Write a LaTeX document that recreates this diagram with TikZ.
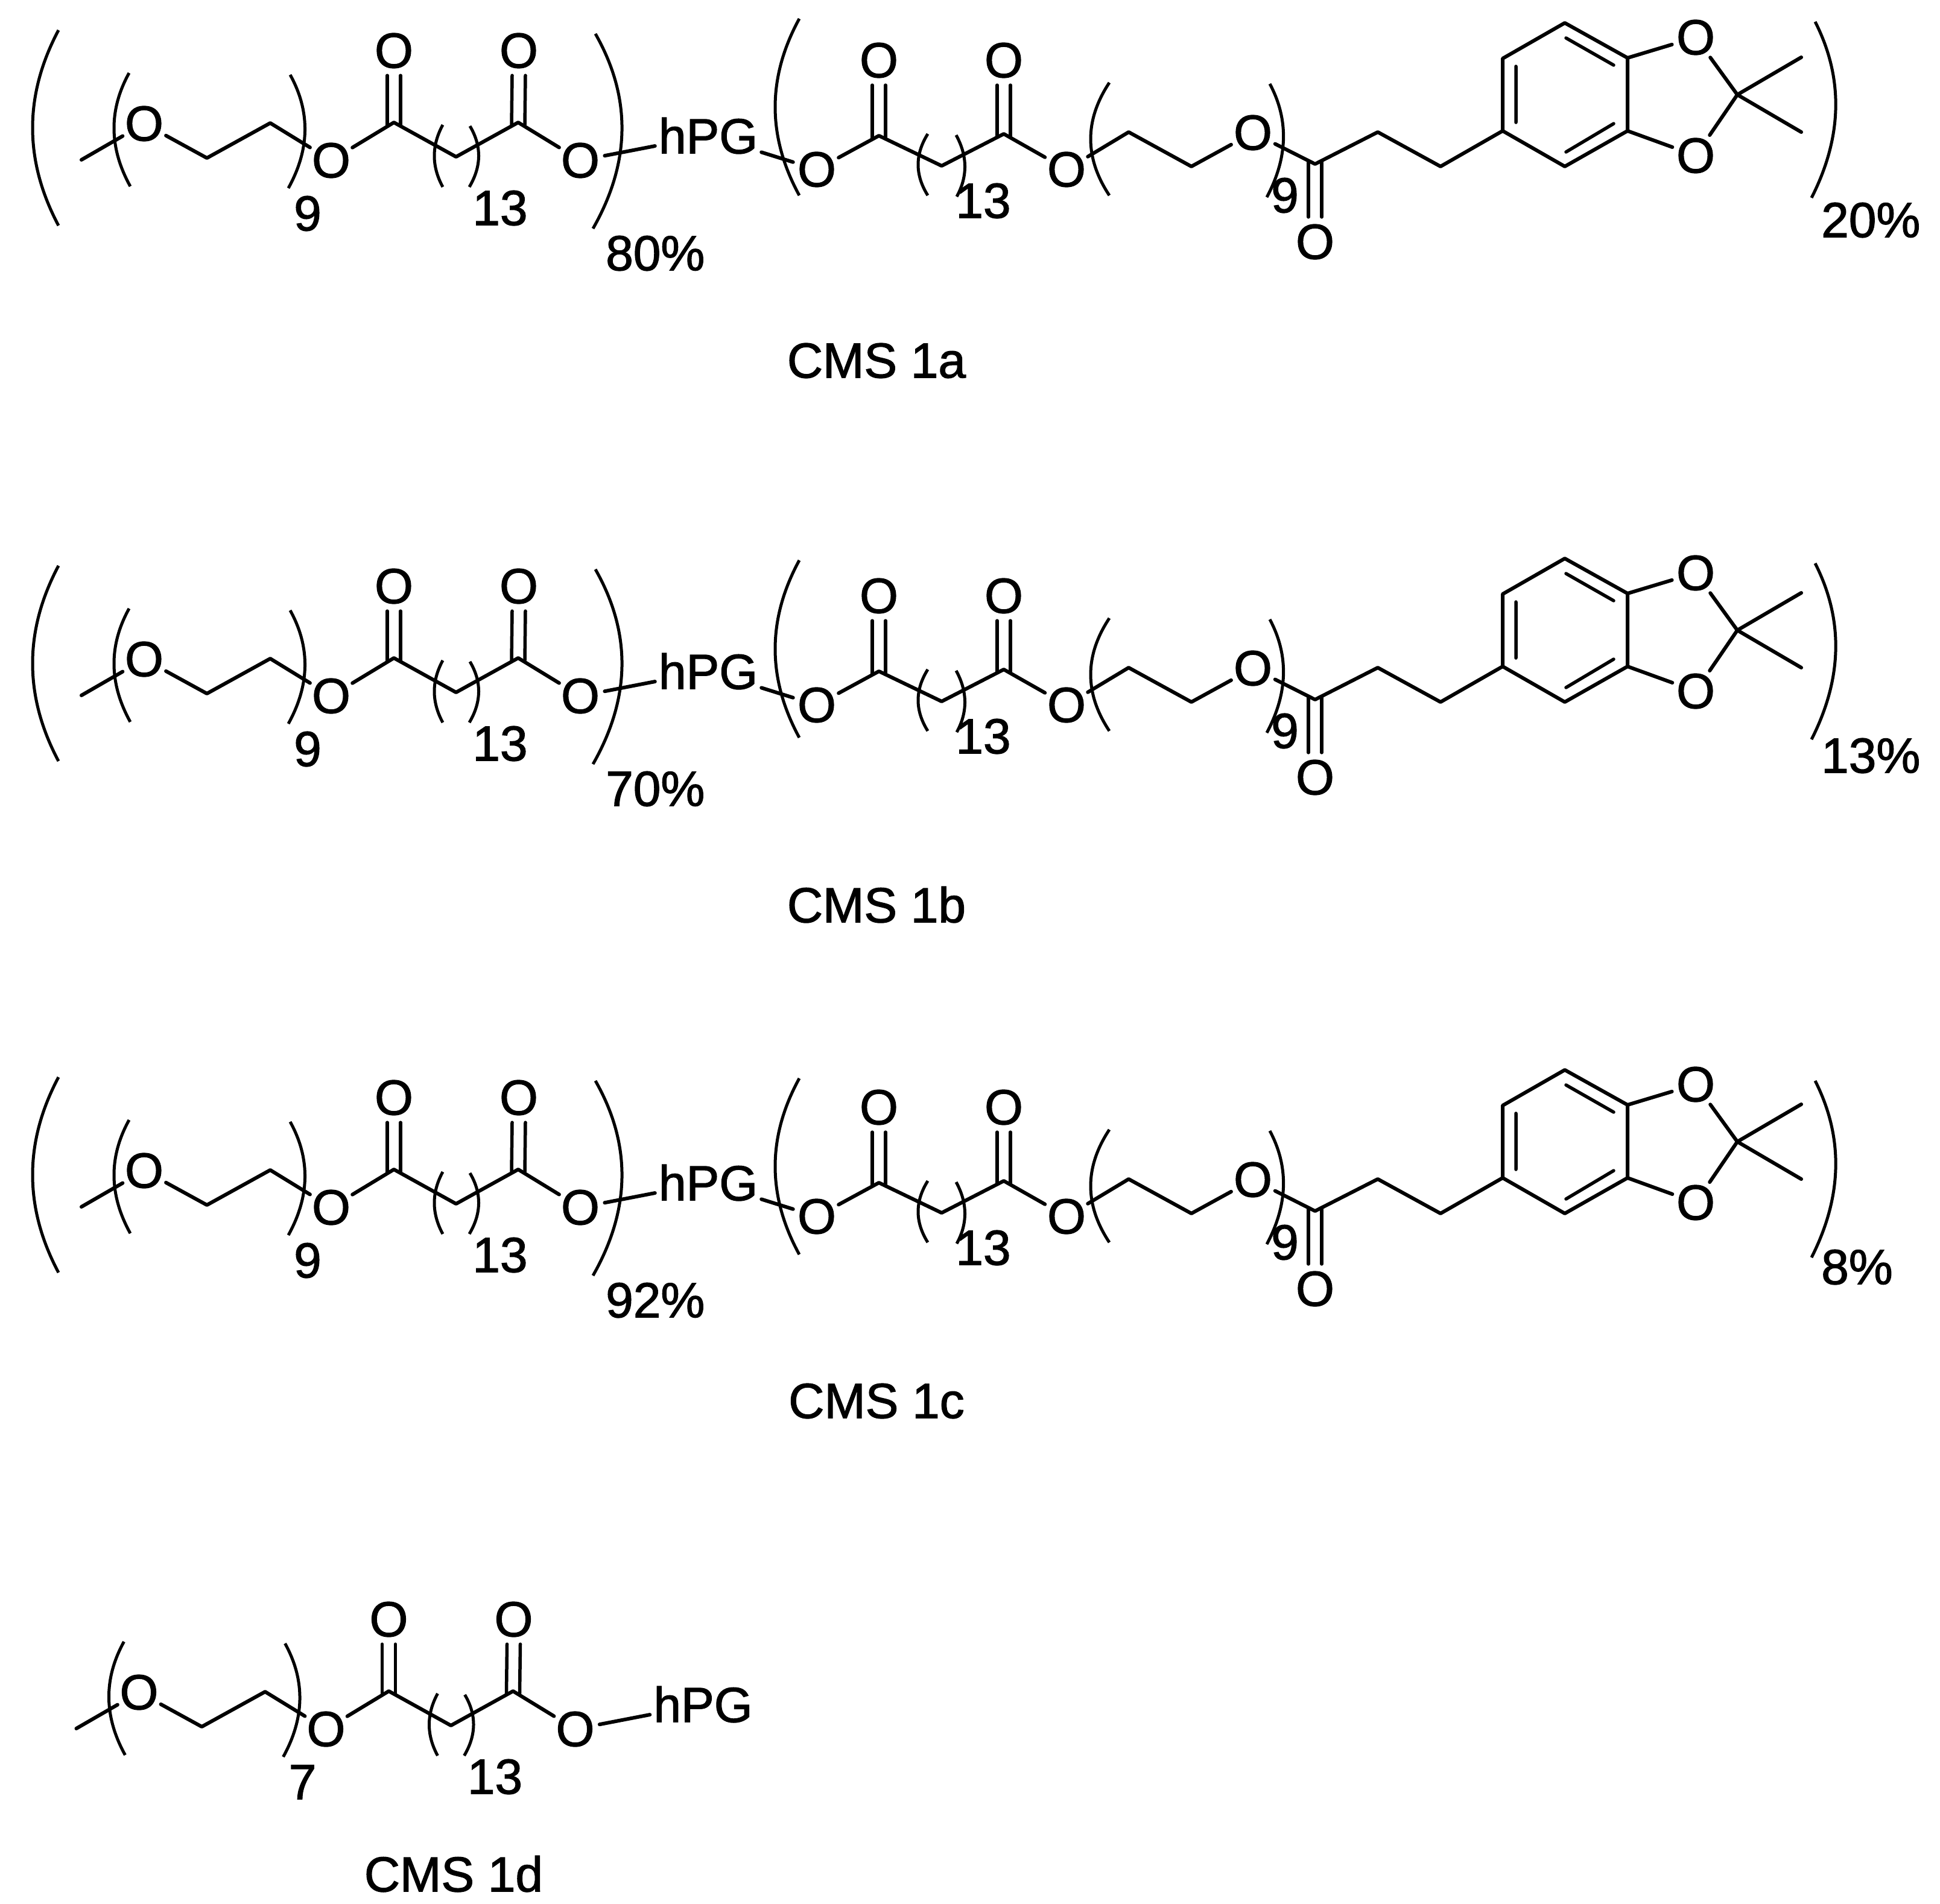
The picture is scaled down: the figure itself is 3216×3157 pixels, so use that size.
\documentclass[tikz,border=0pt]{standalone}
\usepackage{fontspec}
\setmainfont{Liberation Sans}
\newfontfamily\chemfont[FakeBold=1.5]{Liberation Sans}
\tikzset{
  atom/.style={circle,inner sep=-1.5pt},
  lab/.style={inner sep=0pt},
  hpg/.style={inner xsep=6pt,inner ysep=0pt},
  bond/.style={line width=6pt,line cap=round,line join=round},
  inbond/.style={line width=5.5pt,line cap=round},
  paren/.style={line width=5pt}
}
% bracket: x1,y1,x2,y2,bulge
\newcommand{\brk}[5]{%
  \pgfmathsetmacro{\bdy}{(#4-(#2))/3}%
  \pgfmathsetmacro{\bsx}{#5*4/3}%
  \draw[paren] (#1,#2) .. controls +(\bsx,\bdy) and +(\bsx,-\bdy) .. (#3,#4);
}
% double bond: carbon, oxygen, oxygen anchor, shift at the carbon
\newcommand{\dbl}[4]{%
  \draw[inbond] ([xshift=-11pt,yshift=#4pt]#1)--([xshift=-11pt]#2.#3);
  \draw[inbond] ([xshift=11pt,yshift=#4pt]#1)--([xshift=11pt]#2.#3);
}
% methoxy chain, diacid, hPG: prefix, repeat count
\newcommand{\leftarm}[2]{%
  \coordinate (#1me) at (135,265);
  \node[atom] (#1O1) at (239,205) {O};
  \coordinate (#1a1) at (343,262);
  \coordinate (#1a2) at (448,204);
  \node[atom] (#1O2) at (549,266) {O};
  \coordinate (#1c1) at (653,203);
  \node[atom] (#1Oc1) at (653,84) {O};
  \coordinate (#1c2) at (756,260);
  \coordinate (#1c3) at (859,203);
  \node[atom] (#1Oc3) at (860,84) {O};
  \node[atom] (#1O3) at (962,266) {O};
  \node[hpg] (#1hpg) at (1174,225) {hPG};
  \dbl{#1c1}{#1Oc1}{south}{-4}
  \dbl{#1c3}{#1Oc3}{south}{-4}
  \draw[bond] (#1me)--(#1O1)--(#1a1)--(#1a2)--(#1O2)--(#1c1)--(#1c2)--(#1c3)--(#1O3)--(#1hpg);
  \brk{214}{121}{216}{309}{-26}
  \brk{481}{124}{478}{312}{26}
  \brk{734}{207}{734}{310}{-14}
  \brk{779}{209}{778}{310}{15}
  \node[lab] (#1n1) at (510,354) {#2};
  \node[lab] (#1n2) at (829,345) {13};
}
% diacid, chain and acetonide arm: prefix
\newcommand{\rightarm}[1]{%
  \node[atom] (#1O4) at (1354,281) {O};
  \coordinate (#1c4) at (1457,225);
  \node[atom] (#1Oc4) at (1457,100) {O};
  \coordinate (#1c5) at (1561,275);
  \coordinate (#1c6) at (1664,222);
  \node[atom] (#1Oc6) at (1664,100) {O};
  \node[atom] (#1O5) at (1768,281) {O};
  \coordinate (#1b1) at (1871,219);
  \coordinate (#1b2) at (1975,276);
  \node[atom] (#1O6) at (2077,220) {O};
  \coordinate (#1c7) at (2180,272);
  \node[atom] (#1Oc7) at (2180,401) {O};
  \coordinate (#1b3) at (2284,219);
  \coordinate (#1b4) at (2388,276);
  \coordinate (#1r1) at (2491,217);
  \coordinate (#1r2) at (2491,97);
  \coordinate (#1r3) at (2594,38);
  \coordinate (#1r4) at (2698,96);
  \coordinate (#1r5) at (2698,217);
  \coordinate (#1r6) at (2594,276);
  \node[atom] (#1Ou) at (2811,62) {O};
  \node[atom] (#1Ol) at (2811,258) {O};
  \coordinate (#1ck) at (2880,157);
  \coordinate (#1m1) at (2986,95);
  \coordinate (#1m2) at (2986,219);
  \dbl{#1c4}{#1Oc4}{south}{-4}
  \dbl{#1c6}{#1Oc6}{south}{-4}
  \dbl{#1c7}{#1Oc7}{north}{4}
  \draw[bond] (#1hpg)--(#1O4)--(#1c4)--(#1c5)--(#1c6)--(#1O5)--(#1b1)--(#1b2)--(#1O6)--(#1c7)--(#1b3)--(#1b4)--(#1r1);
  \draw[bond] (#1r1)--(#1r2)--(#1r3)--(#1r4)--(#1r5)--(#1r6)--cycle;
  \draw[bond] (#1r4)--(#1Ou)--(#1ck)--(#1Ol)--(#1r5);
  \draw[bond] (#1m1)--(#1ck)--(#1m2);
  \draw[inbond] (2513,110)--(2513,203) (2596,63)--(2675,108) (2675,205)--(2596,252);
  \brk{1538}{222}{1538}{324}{-16}
  \brk{1585}{224}{1586}{326}{14}
  \brk{1839}{137}{1839}{324}{-31}
  \brk{2105}{139}{2100}{327}{25}
  \node[lab] (#1n3) at (1630,333) {13};
  \node[lab] (#1n4) at (2130,324) {9};
}
\begin{document}
\begin{tikzpicture}[x=1pt,y=-1pt,font=\chemfont\fontsize{82}{90}\selectfont]
  \useasboundingbox (0,0) rectangle (3216,3157);
  % CMS 1a
  \begin{scope}
    \leftarm{a}{9}
    \rightarm{a}
    \brk{97}{50}{97}{374}{-43}
    \brk{987}{56}{983}{379}{46}
    \brk{1325}{31}{1325}{324}{-40}
    \brk{3009}{36}{3003}{328}{37}
    \node[lab,anchor=west] (apl) at (1004,420) {80\%};
    \node[lab,anchor=west] (apr) at (3019,365) {20\%};
  \end{scope}
  \node[lab] (alabel) at (1453,598) {CMS 1a};
  % CMS 1b
  \begin{scope}[shift={(0,888)}]
    \leftarm{b}{9}
    \rightarm{b}
    \brk{97}{50}{97}{374}{-43}
    \brk{987}{56}{983}{379}{46}
    \brk{1325}{41}{1325}{335}{-40}
    \brk{3009}{46}{3003}{338}{37}
    \node[lab,anchor=west] (bpl) at (1004,420) {70\%};
    \node[lab,anchor=west] (bpr) at (3019,365) {13\%};
  \end{scope}
  \node[lab] (blabel) at (1453,1500) {CMS 1b};
  % CMS 1c
  \begin{scope}[shift={(0,1736)}]
    \leftarm{c}{9}
    \rightarm{c}
    \brk{97}{50}{97}{374}{-43}
    \brk{987}{56}{983}{379}{46}
    \brk{1325}{52}{1325}{344}{-40}
    \brk{3009}{56}{3003}{349}{37}
    \node[lab,anchor=west] (cpl) at (1004,420) {92\%};
    \node[lab,anchor=west] (cpr) at (3019,365) {8\%};
  \end{scope}
  \node[lab] (clabel) at (1453,2323) {CMS 1c};
  % CMS 1d
  \begin{scope}[shift={(-8.5,2601)}]
    \leftarm{d}{7}
  \end{scope}
  \node[lab] (dlabel) at (752,3107) {CMS 1d};
\end{tikzpicture}
\end{document}
